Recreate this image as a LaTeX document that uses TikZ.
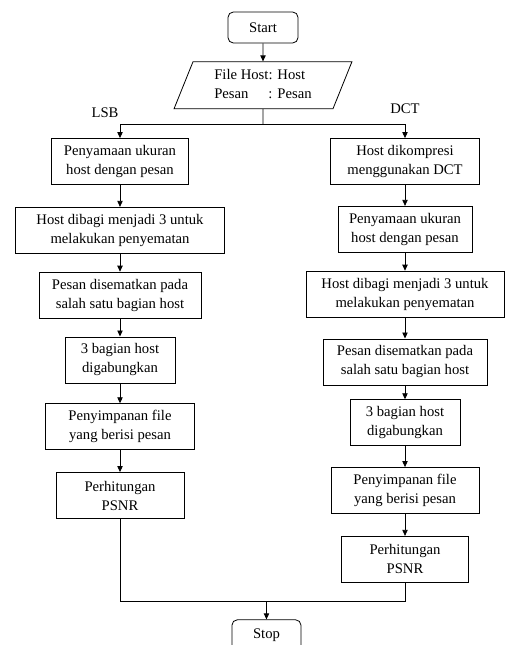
\documentclass[tikz,border=0pt]{standalone}
\usepackage{fontspec}
\setmainfont{Liberation Serif}
\usetikzlibrary{arrows.meta,positioning,shapes.geometric}

\begin{document}
\begin{tikzpicture}[
  font=\fontsize{11}{14.25}\selectfont,
  box/.style={draw,align=center,minimum height=34.5pt,inner xsep=2pt,
              line width=0.6pt},
  term/.style={draw,rounded corners=4pt,minimum width=52.5pt,
               minimum height=23.25pt,line width=0.6pt},
  io/.style={draw,trapezium,trapezium left angle=73,trapezium right angle=107,
             trapezium stretches=true,minimum width=133.5pt,
             minimum height=33.75pt,line width=0.6pt},
  lbl/.style={inner sep=0pt},
  line/.style={line width=0.6pt},
  flow/.style={-{Triangle[length=4.5pt,width=4pt]},line width=0.6pt}
]
\useasboundingbox (-197.25pt,-463.125pt) rectangle (181.5pt,20.625pt);
\node[term] (start) at (0,0) {Start};
\node[io,below=13.5pt of start] (input)
  {\begin{tabular}{@{}l@{}l@{}}File Host&: Host\\Pesan&: Pesan\end{tabular}};
\coordinate[below=11.25pt of input] (split);
\node[box,below=10.5pt of split,xshift=-107.25pt,minimum width=102.75pt] (lsb1)
  {Penyamaan ukuran\\host dengan pesan};
\node[box,below=16.5pt of lsb1,minimum width=156.75pt] (lsb2)
  {Host dibagi menjadi 3 untuk\\melakukan penyematan};
\node[box,below=13.5pt of lsb2,minimum width=121.5pt] (lsb3)
  {Pesan disematkan pada\\salah satu bagian host};
\node[box,below=13.5pt of lsb3,minimum width=82.5pt] (lsb4)
  {3 bagian host\\digabungkan};
\node[box,below=15pt of lsb4,minimum width=111.75pt] (lsb5)
  {Penyimpanan file\\yang berisi pesan};
\node[box,below=16.5pt of lsb5,minimum width=96pt] (lsb6)
  {Perhitungan\\PSNR};
\node[box,below=10.5pt of split,xshift=106.5pt,minimum width=111.75pt] (dct1)
  {Host dikompresi\\menggunakan DCT};
\node[box,below=15.75pt of dct1,minimum width=100.5pt] (dct2)
  {Penyamaan ukuran\\host dengan pesan};
\node[box,below=13.5pt of dct2,minimum width=148.5pt] (dct3)
  {Host dibagi menjadi 3 untuk\\melakukan penyematan};
\node[box,below=15.75pt of dct3,minimum width=123pt] (dct4)
  {Pesan disematkan pada\\salah satu bagian host};
\node[box,below=10.5pt of dct4,minimum width=82.5pt] (dct5)
  {3 bagian host\\digabungkan};
\node[box,below=15.75pt of dct5,minimum width=111pt] (dct6)
  {Penyimpanan file\\yang berisi pesan};
\node[box,below=16.5pt of dct6,minimum width=95.25pt] (dct7)
  {Perhitungan\\PSNR};
\node[lbl,above=15pt of lsb1.north,xshift=-11.25pt] (lsblabel) {LSB};
\node[lbl,above=18pt of dct1.north] (dctlabel) {DCT};
\node[term,below=432pt of start,xshift=2.6pt,minimum width=51.75pt] (stop) {Stop};
\coordinate[above=13.5pt of stop] (join);
\draw[flow] (start) -- (input);
\draw[line] (input) -- (split);
\draw[flow] (split) -| (lsb1);
\draw[flow] (split) -| (dct1);
\draw[flow] (lsb1) -- (lsb2);
\draw[flow] (lsb2) -- (lsb3);
\draw[flow] (lsb3) -- (lsb4);
\draw[flow] (lsb4) -- (lsb5);
\draw[flow] (lsb5) -- (lsb6);
\draw[flow] (dct1) -- (dct2);
\draw[flow] (dct2) -- (dct3);
\draw[flow] (dct3) -- (dct4);
\draw[flow] (dct4) -- (dct5);
\draw[flow] (dct5) -- (dct6);
\draw[flow] (dct6) -- (dct7);
\draw[line] (lsb6.south) |- (join) -| (dct7.south);
\draw[flow] (join) -- (stop);
\end{tikzpicture}
\end{document}
